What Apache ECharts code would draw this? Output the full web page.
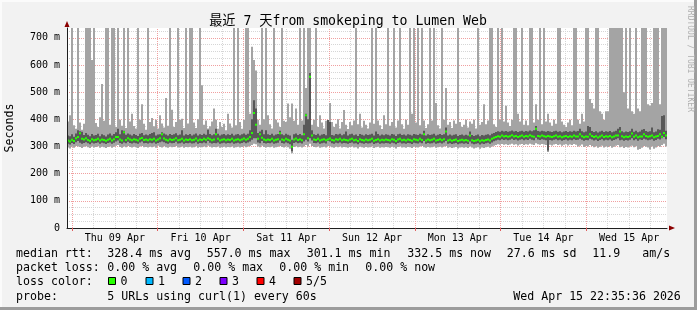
<!DOCTYPE html>
<html><head><meta charset="utf-8">
<script src="https://cdn.jsdelivr.net/npm/echarts@6/dist/echarts.min.js"></script>
<style>html,body{margin:0;padding:0;background:#f2f2f2;overflow:hidden}#c{width:697px;height:310px}</style>
</head><body><div id="c"></div>
<script>
// time base: 2026-04-08 22:35:36 expressed in hours relative to Thu 09 Apr 00:00
const startHour = -1.4067;
const stepHours = 0.56;   // one consolidated step
const spanHours = 168;

// ping statistics per step (ms). 760 = beyond top of graph
const hiPing = [
392,415,760,378,365,760,388,362,384,760, 760,760,618,760,386,372,408,530,395,760,
760,380,760,760,372,760,398,376,760,368, 760,392,420,375,366,760,398,455,384,362,
760,390,405,374,398,366,415,385,370,478, 376,760,435,372,390,760,398,402,368,760,
385,760,760,388,368,400,760,525,380,396, 366,374,392,440,398,365,390,372,384,360,
420,385,370,760,378,760,390,365,398,760, 760,420,667,618,580,398,380,760,400,760,
415,382,366,760,398,388,372,760,395,390, 458,408,458,395,440,380,760,396,760,515,
760,760,380,398,760,372,415,388,366,395, 382,460,390,372,384,400,366,390,434,380,
364,390,378,396,760,382,420,370,395,380, 366,388,760,384,760,396,378,364,415,382,
760,376,390,760,370,396,760,382,365,398, 380,760,420,760,388,760,378,760,396,368,
382,760,396,760,460,378,366,760,398,515, 380,390,368,396,384,760,390,372,380,398,
370,392,384,398,366,760,380,390,455,382, 396,760,760,382,372,760,398,760,392,450,
388,375,398,760,760,420,392,760,380,396, 378,760,760,388,455,398,760,382,760,392,
420,388,376,398,384,760,760,392,380,372, 388,398,378,760,760,398,384,420,392,760,
760,475,460,440,760,760,430,420,398,430, 430,760,760,760,760,760,760,760,500,760,
440,760,430,420,760,440,430,760,760,760, 455,450,460,760,760,760,455,760,760,760
];
const p4Ping = [
340,338,345,336,348,360,356,354,342,350, 343,338,346,340,342,347,338,345,341,337,
344,348,340,346,352,365,345,360,358,343, 348,344,340,346,342,339,347,350,341,344,
341,346,350,352,340,344,345,352,348,344, 340,346,342,345,349,341,344,360,340,345,
342,346,340,344,348,340,345,342,347,343, 362,346,341,345,365,347,340,344,346,341,
345,342,347,340,344,346,341,345,348,343, 347,360,400,470,440,350,355,362,345,360,
345,342,347,340,344,346,358,345,341,347, 343,340,325,345,348,342,346,341,380,420,
400,570,360,345,342,347,340,344,346,341, 397,390,342,340,346,344,347,341,345,355,
340,345,347,341,344,339,346,343,340,345, 342,344,347,340,355,346,340,344,341,345,
343,340,346,344,339,345,347,342,344,340, 345,343,340,346,344,342,347,344,358,340,
345,342,344,347,340,343,346,342,345,370, 340,344,340,343,345,339,342,344,340,343,
340,355,342,339,341,344,338,342,340,343, 345,341,347,350,353,356,354,358,355,357,
354,356,359,355,357,353,356,358,354,357, 355,359,356,360,375,357,355,358,356,354,
357,355,353,356,358,354,356,352,355,357, 353,356,354,358,355,357,365,356,352,355,
375,372,357,353,356,351,355,358,353,356, 354,357,352,355,358,365,372,356,352,355,
353,356,365,354,358,352,355,362,364,357, 354,356,370,352,355,363,362,412,415,358
];
const medPing = [
322,318,325,320,330,335,349,328,326,330, 324,320,327,323,325,328,322,326,324,321,
325,328,322,327,335,335,326,322,352,324, 330,326,323,327,325,322,328,331,324,326,
323,327,325,328,322,326,330,345,329,325, 322,327,324,326,330,323,325,328,322,326,
324,327,323,325,329,322,326,324,328,325, 330,327,323,326,345,328,322,325,327,323,
326,324,328,322,325,327,323,326,329,325, 328,335,350,423,380,328,345,332,326,323,
326,324,328,322,325,327,349,326,323,328, 325,322,299,326,329,324,327,323,345,415,
330,557,340,326,324,328,322,325,327,323, 326,329,324,322,327,325,328,323,326,324,
322,326,328,323,325,320,327,324,322,326, 323,325,328,321,324,327,322,325,323,326,
324,322,327,325,320,326,328,323,325,322, 326,324,321,327,325,323,328,324,345,322,
326,323,325,328,322,324,327,323,327,355, 322,325,321,324,326,320,323,325,322,324,
321,340,323,320,322,325,319,323,321,324, 326,322,328,332,335,338,336,340,337,339,
336,338,341,337,339,335,338,340,336,339, 337,341,338,336,365,339,337,340,338,336,
339,337,335,338,340,336,338,334,337,339, 335,338,336,340,337,337,345,338,334,337,
336,345,339,335,338,333,337,340,335,338, 336,339,334,337,340,340,355,338,334,337,
335,338,348,336,340,334,337,337,345,339, 336,338,340,334,337,339,345,336,350,340
];
const p2Ping = [
310,307,313,309,316,320,314,310,313,316, 312,308,314,311,313,315,310,314,312,309,
313,315,310,314,318,322,313,310,315,312, 317,313,311,314,312,310,315,318,312,313,
311,314,312,315,310,313,316,318,316,312, 310,314,312,313,317,311,312,315,310,313,
312,314,311,312,316,310,313,312,315,312, 320,314,311,313,312,315,310,312,314,311,
313,312,315,310,312,314,311,313,316,312, 315,318,325,330,330,315,312,320,313,311,
313,312,315,310,312,314,322,313,311,315, 312,308,282,313,316,312,314,311,318,325,
318,330,322,313,312,315,310,312,314,311, 320,318,312,310,314,312,315,311,313,312,
310,313,315,311,312,308,314,312,310,313, 311,312,315,309,312,314,310,312,311,313,
312,310,314,312,308,313,315,311,312,310, 313,312,309,314,312,311,315,312,320,310,
313,311,312,315,310,312,314,311,315,320, 310,312,309,311,313,308,311,312,310,312,
309,318,311,308,310,312,307,311,309,312, 314,310,315,319,322,325,323,327,324,326,
323,325,328,324,326,322,325,327,323,326, 324,328,325,323,332,326,324,327,325,323,
285,324,322,325,327,323,325,321,324,326, 322,325,323,327,324,325,328,325,321,324,
323,328,326,322,325,320,324,327,322,325, 323,326,321,324,327,330,323,325,321,324,
322,325,330,323,327,321,326,324,328,326, 323,325,327,321,324,328,326,330,335,327
];
const loPing = [
296,293,299,295,302,300,298,294,299,301, 297,294,300,296,298,301,295,299,297,294,
298,300,295,299,303,305,298,295,300,297, 302,298,296,299,297,294,300,302,297,298,
296,299,297,300,295,303,298,296,301,297, 295,299,297,298,302,296,297,300,295,298,
297,299,296,297,301,295,298,297,300,297, 303,299,296,298,297,300,295,297,299,296,
298,297,300,295,297,299,296,298,301,297, 300,302,305,310,308,300,297,303,298,296,
298,297,300,295,297,299,302,298,296,300, 297,292,275,298,301,297,299,296,300,305,
300,310,302,298,297,300,295,297,299,296, 302,300,297,295,299,297,300,296,298,297,
295,298,300,296,297,293,299,297,295,298, 296,297,300,294,297,299,295,297,296,298,
297,295,299,297,293,298,300,296,297,295, 298,297,294,299,297,296,300,302,297,295,
298,296,297,300,295,297,299,296,300,302, 295,297,294,296,298,293,296,297,295,297,
294,300,296,293,295,297,292,296,294,297, 299,295,300,303,305,308,306,309,306,308,
305,307,310,306,308,304,307,309,305,308, 306,310,307,305,312,308,306,309,307,305,
280,306,304,307,309,305,307,303,306,308, 304,307,305,309,306,300,303,307,298,302,
300,305,302,297,301,295,299,303,296,300, 298,302,295,299,303,305,297,300,294,298,
296,300,303,297,301,288,291,295,302,299, 296,289,300,292,296,302,299,305,310,300
];

const dayLabels = ['Thu 09 Apr','Fri 10 Apr','Sat 11 Apr','Sun 12 Apr','Mon 13 Apr','Tue 14 Apr','Wed 15 Apr'];
const dayLabelHours = [12,36,60,84,108,132,156];
const majorGridHours = [0,24,48,72,96,120,144];
const minorGridHours = [6,12,18,30,36,42,54,60,66,78,84,90,102,108,114,126,132,138,150,156,162];
const yMajorTicks = [100,200,300,400,500,600,700];
const yMinorTicks = [25,50,75,125,150,175,225,250,275,325,350,375,425,450,475,525,550,575,625,650,675,725];
const yMax = 736;

const legendRows = [
  [[16,'median rtt:'],[107.3,'328.4 ms avg'],[206.7,'557.0 ms max'],[306.7,'301.1 ms min'],[407.3,'332.5 ms now'],[506.7,'27.6 ms sd'],[592.3,'11.9'],[642.3,'am/s']],
  [[16,'packet loss:'],[107.3,'0.00 % avg'],[193.3,'0.00 % max'],[279.3,'0.00 % min'],[365.3,'0.00 % now']],
  [[16,'loss color:']],
  [[16,'probe:'],[107.3,'5 URLs using curl(1) every 60s'],[513.3,'Wed Apr 15 22:35:36 2026']]
];
const legendRowY = [254, 268.3, 281.7, 296.5];
const lossLabels = ['0','1','2','3','4','5/5'];
const lossColors = ['#26ff00','#00b8ff','#0059ff','#7e00ff','#ff0000','#a10000'];
const lossBoxX = [108,145.5,182.5,219.5,256.5,293.5];

const MONO = '"DejaVu Sans Mono", "Noto Sans CJK SC", monospace';
const rows = hiPing.map((h,i)=>[startHour+(i+0.5)*stepHours, loPing[i], p2Ping[i], medPing[i], p4Ping[i], h]);

function txt(x,y,s,o){o=o||{};return {type:'text',x:x,y:y,rotation:o.rot||0,silent:true,z:100,
  style:{text:s,font:(o.size||11.6)+'px '+MONO,fill:o.fill||'#000',textAlign:o.align||'left',align:o.align||'left',textVerticalAlign:'middle',verticalAlign:'middle'}};}

const graphics = [];
graphics.push({type:'rect',shape:{x:0,y:0,width:697,height:2},style:{fill:'#fbfbfb'},silent:true});
graphics.push({type:'rect',shape:{x:0,y:0,width:2,height:310},style:{fill:'#fbfbfb'},silent:true});
graphics.push({type:'rect',shape:{x:694,y:0,width:3,height:310},style:{fill:'#9c9c9c'},silent:true});
graphics.push({type:'rect',shape:{x:0,y:307,width:697,height:3},style:{fill:'#9c9c9c'},silent:true});
graphics.push(txt(348,21.5,'最近 7 天from smokeping to Lumen Web',{size:13.2,align:'center'}));
graphics.push(txt(690,59,'RRDTOOL / TOBI OETIKER',{size:8,align:'center',fill:'#b0b0b0',rot:-Math.PI/2}));
legendRows.forEach((row,r)=>row.forEach(it=>graphics.push(txt(it[0],legendRowY[r],it[1]))));
lossLabels.forEach((l,k)=>{
  graphics.push({type:'rect',silent:true,z:100,shape:{x:lossBoxX[k]+0.5,y:277.5,width:7,height:7},style:{fill:lossColors[k],stroke:'#000',lineWidth:1}});
  graphics.push(txt(lossBoxX[k]+12.5,legendRowY[2],l));
});
graphics.push({type:'polygon',silent:true,z:100,shape:{points:[[64.5,27],[69.5,27],[67,21]]},style:{fill:'#8b0000'}});
graphics.push({type:'polygon',silent:true,z:100,shape:{points:[[669,225.5],[669,230.5],[675,228]]},style:{fill:'#8b0000'}});

const gridMarks = [].concat(
  minorGridHours.map(h=>({xAxis:h,lineStyle:{color:'#d6d6d6',type:[1,1],width:1}})),
  yMinorTicks.map(v=>({yAxis:v,lineStyle:{color:'#d6d6d6',type:[1,1],width:1}})),
  majorGridHours.map(h=>({xAxis:h,lineStyle:{color:'#f0a0a0',type:[1,1],width:1}})),
  yMajorTicks.map(v=>({yAxis:v,lineStyle:{color:'#f0a0a0',type:[1,1],width:1}}))
);

const chart = echarts.init(document.getElementById('c'));
chart.setOption({
  animation:false,
  backgroundColor:'#f2f2f2',
  graphic:graphics,
  grid:{left:67,right:30,top:28,bottom:82,containLabel:false,outerBoundsMode:'none',show:true,backgroundColor:'#ffffff',borderWidth:0},
  xAxis:{type:'value',min:startHour,max:startHour+spanHours,z:10,
    axisLine:{show:true,onZero:false,lineStyle:{color:'#1f1f1f',width:1}},
    axisTick:{show:true,customValues:majorGridHours,length:3,lineStyle:{color:'#e06060'}},
    axisLabel:{customValues:dayLabelHours,margin:5,fontSize:10,fontFamily:MONO,color:'#000',
      formatter:v=>dayLabels[dayLabelHours.indexOf(Math.round(v))]||''},
    splitLine:{show:false}},
  yAxis:{type:'value',min:0,max:yMax,interval:100,z:10,
    name:'Seconds',nameLocation:'middle',nameGap:51,nameRotate:90,
    nameTextStyle:{fontSize:11.6,fontFamily:MONO,color:'#000'},
    axisLine:{show:true,onZero:false,lineStyle:{color:'#1f1f1f',width:1}},
    axisTick:{show:false},
    axisLabel:{margin:7,fontSize:10,fontFamily:MONO,color:'#000',showMaxLabel:false,
      formatter:v=>v===0?'0':v+' m'},
    splitLine:{show:false}},
  series:[
    {type:'custom',z:3,silent:true,data:rows,
     markLine:{z:1,silent:true,symbol:'none',label:{show:false},animation:false,data:gridMarks},
     renderItem:function(params,api){
       const x=api.value(0);
       const w=api.size([stepHours,0])[0];
       const c=v=>Math.min(v,yMax);
       const pLo=api.coord([x,api.value(1)]);
       const pP2=api.coord([x,api.value(2)]);
       const pMed=api.coord([x,api.value(3)]);
       const pP4=api.coord([x,c(api.value(4))]);
       const pHi=api.coord([x,c(api.value(5))]);
       const left=pLo[0]-w/2;
       return {type:'group',children:[
         {type:'rect',shape:{x:left,y:pHi[1],width:w,height:pLo[1]-pHi[1]},style:{fill:'#a4a4a4'}},
         {type:'rect',shape:{x:left,y:pP4[1],width:w,height:pP2[1]-pP4[1]},style:{fill:'#585858'}},
         {type:'rect',shape:{x:left,y:pMed[1]-1,width:w,height:2},style:{fill:'#26ff00'}}
       ]};
     }}
  ]
});
</script></body></html>
